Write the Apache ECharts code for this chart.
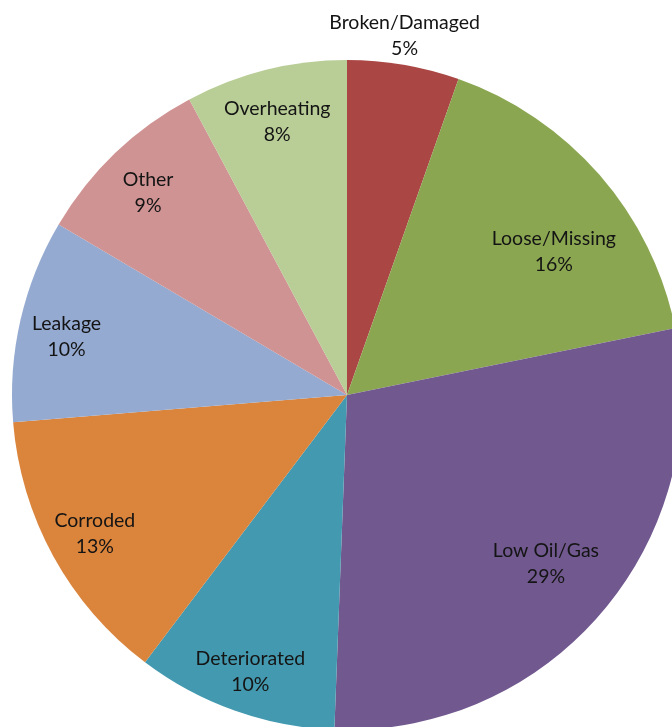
<!DOCTYPE html>
<html>
<head>
<meta charset="utf-8">
<script src="https://cdn.jsdelivr.net/npm/echarts@6/dist/echarts.min.js"></script>
<style>
  html, body { margin: 0; padding: 0; background: #fff; }
  #chart { width: 672px; height: 727px; }
</style>
</head>
<body>
<div id="chart"></div>
<script>
// slices, clockwise from 12 o'clock
const categories = ['Broken/Damaged', 'Loose/Missing', 'Low Oil/Gas', 'Deteriorated', 'Corroded', 'Leakage', 'Other', 'Overheating']
const values = [5.4, 16.4, 28.8, 9.7, 13.4, 9.8, 8.7, 7.8]
const colors = ['#AA4644', '#8BA651', '#71598F', '#4399AF', '#DA843C', '#94AAD0', '#D09393', '#B9CD96']

const chart = echarts.init(document.getElementById('chart'))

const R = 335
const center = [347, 395]

// small nudges so labels sit where the original put them
const nudge = {
  'Loose/Missing': [10, 28],
  'Low Oil/Gas': [0, 0],
  'Broken/Damaged': [-4, 0],
  'Corroded': [0, 0]
}

const pieData = categories.map((name, i) => ({ name, value: values[i] }))

// labels sit on transparent rings so their radius can be chosen
const labelRing = (r0, r1, which) => ({
  type: 'pie',
  center,
  radius: [r0, r1],
  startAngle: 90,
  silent: true,
  animation: false,
  itemStyle: { color: 'rgba(0,0,0,0)' },
  labelLine: { show: false },
  data: pieData.map(d => ({
    ...d,
    label: { show: which.includes(d.name), offset: nudge[d.name] || [0, 6] }
  })),
  label: {
    position: 'inside',
    fontFamily: 'Lato',
    fontSize: 19.5,
    lineHeight: 26,
    color: '#141414',
    formatter: p => p.name + '\n' + Math.round(p.percent) + '%'
  }
})

const option = {
  backgroundColor: '#fff',
  series: [
    {
      type: 'pie',
      center,
      radius: [0, R],
      startAngle: 90,
      animation: false,
      color: colors,
      label: { show: false },
      labelLine: { show: false },
      data: pieData
    },
    labelRing(R * 0.70, R, ['Deteriorated', 'Corroded', 'Leakage', 'Other', 'Overheating']),
    labelRing(R * 0.54, R, ['Loose/Missing', 'Low Oil/Gas']),
    labelRing(R, R * 1.16, ['Broken/Damaged'])
  ]
}

chart.setOption(option)
</script>
</body>
</html>
